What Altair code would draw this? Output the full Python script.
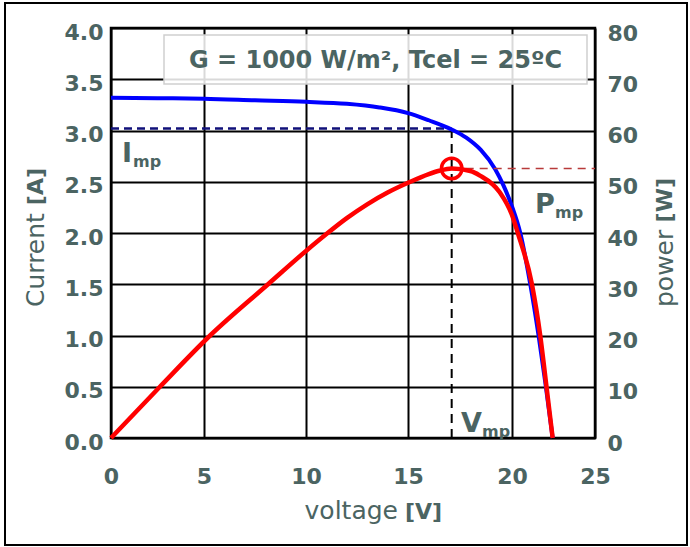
import altair as alt
import pandas as pd

# ---- data ----
iv_voltage = [0, 2.5, 5, 7.5, 10, 12, 13.6, 15, 16, 17.1, 17.8, 18.5, 19.2, 19.6, 20, 20.5, 21.1, 21.6, 22.0, 22.45]
iv_current = [3.32, 3.315, 3.31, 3.295, 3.28, 3.26, 3.225, 3.17, 3.10, 3.01, 2.93, 2.81, 2.62, 2.46, 2.26, 2.0, 1.5, 1.0, 0.55, 0.0]

pv_voltage = [0, 2.63, 5.3, 8.14, 10, 11, 12, 13, 14, 15, 16, 16.5, 17.1, 18, 18.46, 19.4, 20, 20.35, 21.2, 21.7, 22.06, 22.45]
pv_power = [0, 10, 20, 30, 36.5, 39.8, 42.9, 45.6, 47.9, 49.8, 51.5, 52.15, 52.6, 52.1, 51.2, 48.0, 43.5, 40, 30, 20, 10.5, 0]

v_mp = 17.1
i_mp = 3.02
p_mp = 52.6

x_ticks = [0, 5, 10, 15, 20, 25]
i_ticks = [0, 0.5, 1.0, 1.5, 2.0, 2.5, 3.0, 3.5, 4.0]
p_ticks = [0, 10, 20, 30, 40, 50, 60, 70, 80]

TXT = "#4b6462"
FONT = "DejaVu Sans"

iv_df = pd.DataFrame({"v": iv_voltage, "i": iv_current})
pv_df = pd.DataFrame({"v": pv_voltage, "p": pv_power})

xscale = alt.Scale(domain=x_ticks, range=[0, 93, 195, 297, 401, 484], nice=False, zero=False)
xaxis = alt.Axis(values=x_ticks, format="d", title=None, labelFont=FONT, labelFontSize=22,
                 labelFontWeight="bold", labelColor=TXT, labelPadding=28, labelFlush=False,
                 ticks=False, domain=False,
                 grid=True, gridColor="black", gridWidth=2, gridOpacity=1)

iscale = alt.Scale(domain=[0, 4], nice=False, zero=False)
iaxis = alt.Axis(values=i_ticks, format=".1f", title=None, orient="left", labelFont=FONT,
                 labelFontSize=22, labelFontWeight="bold", labelColor=TXT, labelPadding=8,
                 labelOffset=4, ticks=False, domain=False, grid=True, gridColor="black",
                 gridWidth=2, gridOpacity=1)
pscale = alt.Scale(domain=[0, 80], nice=False, zero=False)
paxis = alt.Axis(values=p_ticks, format="d", title=None, orient="right", labelFont=FONT,
                 labelFontSize=22, labelFontWeight="bold", labelColor=TXT, labelPadding=12,
                 labelOffset=5, ticks=False, domain=False, grid=False)

def X(field):
    return alt.X(f"{field}:Q", scale=xscale, axis=xaxis)

one = alt.Data(values=[{"a": 1}])

# current layer
blue = alt.Chart(iv_df).mark_line(color="#0000ff", strokeWidth=4, interpolate="monotone").encode(
    x=X("v"), y=alt.Y("i:Q", scale=iscale, axis=iaxis))
imp_df = pd.DataFrame({"v0": [0], "v1": [v_mp], "i": [i_mp]})
imp_line = alt.Chart(imp_df).mark_rule(color="#10107a", strokeWidth=2.5, strokeDash=[8, 5]).encode(
    x=X("v0"), x2="v1", y=alt.Y("i:Q", scale=iscale, axis=iaxis))
vmp_df = pd.DataFrame({"v": [v_mp], "i0": [0], "i1": [i_mp]})
vmp_line = alt.Chart(vmp_df).mark_rule(color="black", strokeWidth=2, strokeDash=[9, 6]).encode(
    x=X("v"), y=alt.Y("i0:Q", scale=iscale, axis=iaxis), y2="i1")
current_layer = alt.layer(imp_line, vmp_line, blue)

# power layer
red = alt.Chart(pv_df).mark_line(color="#ff0000", strokeWidth=4.5, interpolate="monotone").encode(
    x=X("v"), y=alt.Y("p:Q", scale=pscale, axis=paxis))
pmp_df = pd.DataFrame({"v0": [v_mp], "v1": [25], "p": [p_mp]})
pmp_line = alt.Chart(pmp_df).mark_rule(color="#b83a3a", strokeWidth=1.5, strokeDash=[8, 6]).encode(
    x=X("v0"), x2="v1", y=alt.Y("p:Q", scale=pscale, axis=paxis))
mp_df = pd.DataFrame({"v": [v_mp], "p": [p_mp]})
mp_pt = alt.Chart(mp_df).mark_point(shape="circle", filled=False, color="#ff0000", size=420,
                                    strokeWidth=3.5, opacity=1).encode(
    x=X("v"), y=alt.Y("p:Q", scale=pscale, axis=paxis))
power_layer = alt.layer(pmp_line, red, mp_pt)

def txt(s, x, y, size, weight="normal", align="left", baseline="alphabetic", angle=0):
    kw = dict(text=s, font=FONT, fontSize=size, fontWeight=weight, color=TXT, align=align,
              baseline=baseline)
    if angle:
        kw["angle"] = angle
    return alt.Chart(one).mark_text(**kw).encode(x=alt.value(x), y=alt.value(y))

legend_box = alt.Chart(one).mark_rect(fill="white", fillOpacity=0.85, stroke="#cfcfcf",
                                      strokeWidth=1.5).encode(
    x=alt.value(53), x2=alt.value(476), y=alt.value(7), y2=alt.value(56))
legend_txt = txt("G = 1000 W/m², Tcel = 25ºC", 264.5, 40, 24, "bold", align="center")

frame = alt.Chart(one).mark_rect(filled=False, stroke="black", strokeWidth=2).encode(
    x=alt.value(-106), x2=alt.value(576), y=alt.value(-25), y2=alt.value(517))

texts = [
    # axis titles
    txt("Current", -75, 279, 25, align="left", baseline="middle", angle=270),
    txt("[A]", -75, 140, 22, "bold", align="right", baseline="middle", angle=270),
    txt("power", 554, 279, 25, align="left", baseline="middle", angle=270),
    txt("[W]", 554, 150, 22, "bold", align="right", baseline="middle", angle=270),
    txt("voltage", 287, 491, 25, align="right"),
    txt("[V]", 294, 491, 22, "bold", align="left"),
    # annotations
    txt("I", 11, 134, 27, "bold"),
    txt("mp", 22, 139, 16, "bold"),
    txt("P", 424, 185, 27, "bold"),
    txt("mp", 444, 190, 16, "bold"),
    txt("V", 350, 404, 27, "bold"),
    txt("mp", 371, 409, 16, "bold"),
]

chart = alt.layer(current_layer, power_layer, legend_box, legend_txt, frame, *texts).resolve_scale(
    y="independent"
).properties(
    width=484, height=410,
    padding={"left": 111, "top": 28, "right": 95, "bottom": 109},
    autosize=alt.AutoSizeParams(type="none"),
    background="white",
).configure_view(stroke="black", strokeWidth=2.5)

chart.save("out.html", embed_options={"renderer": "svg", "actions": False})
